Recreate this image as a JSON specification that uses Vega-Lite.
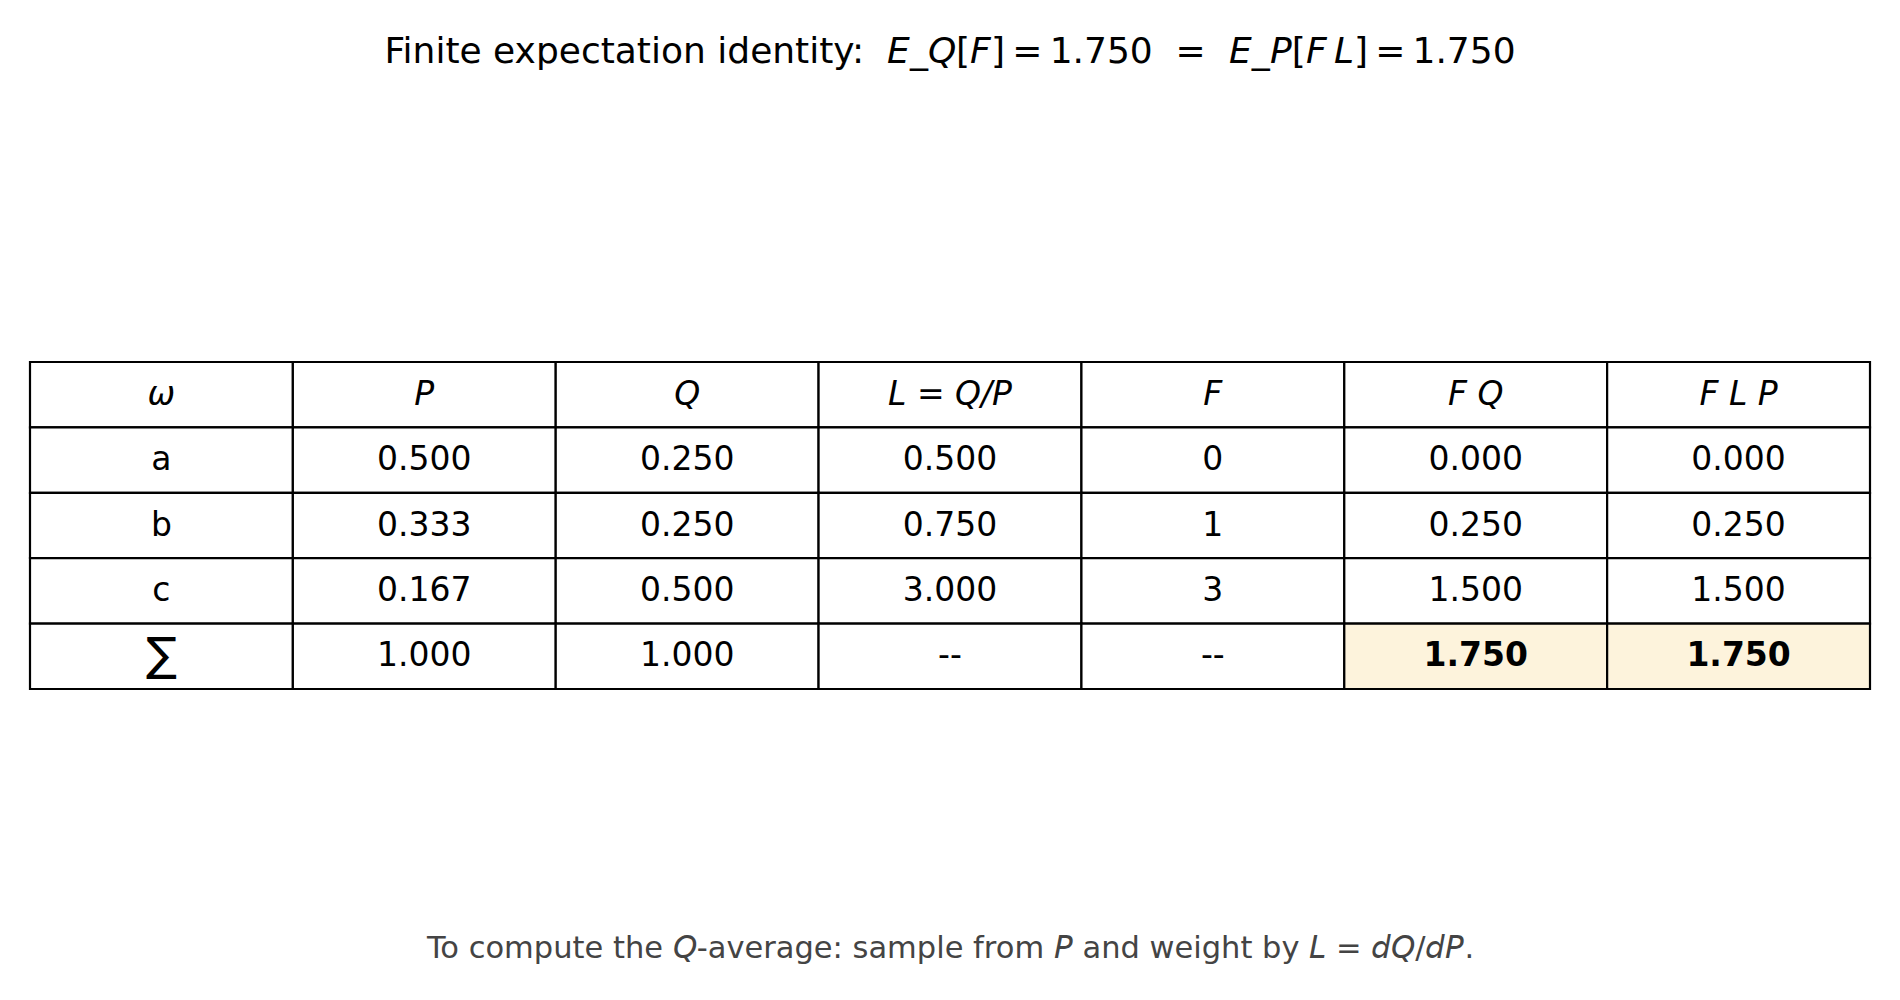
{
  "$schema": "https://vega.github.io/schema/vega-lite/v6.json",
  "width": 1840,
  "height": 327,
  "autosize": {"type": "none"},
  "padding": {"left": 30, "top": 362, "right": 30, "bottom": 311},
  "background": "white",
  "config": {
    "view": {"stroke": null},
    "font": "DejaVu Sans",
    "text": {"font": "DejaVu Sans"}
  },
  "title": {
    "text": "Finite expectation identity:\u00a0\u00a0𝘌_𝘘[𝘍]\u2009=\u20091.750\u00a0\u00a0=\u00a0\u00a0𝘌_𝘗[𝘍\u2009𝘓]\u2009=\u20091.750",
    "font": "DejaVu Sans",
    "fontSize": 36,
    "fontWeight": "normal",
    "color": "black",
    "anchor": "middle",
    "frame": "group",
    "offset": 290
  },
  "data": {
    "values": [
      {"r": 0, "c": 0, "t": "ω", "kind": "head"},
      {"r": 0, "c": 1, "t": "P", "kind": "head"},
      {"r": 0, "c": 2, "t": "Q", "kind": "head"},
      {"r": 0, "c": 3, "t": "L = Q/P", "kind": "head"},
      {"r": 0, "c": 4, "t": "F", "kind": "head"},
      {"r": 0, "c": 5, "t": "F Q", "kind": "head"},
      {"r": 0, "c": 6, "t": "F L P", "kind": "head"},
      {"r": 1, "c": 0, "t": "a", "kind": "body"},
      {"r": 1, "c": 1, "t": "0.500", "kind": "body"},
      {"r": 1, "c": 2, "t": "0.250", "kind": "body"},
      {"r": 1, "c": 3, "t": "0.500", "kind": "body"},
      {"r": 1, "c": 4, "t": "0", "kind": "body"},
      {"r": 1, "c": 5, "t": "0.000", "kind": "body"},
      {"r": 1, "c": 6, "t": "0.000", "kind": "body"},
      {"r": 2, "c": 0, "t": "b", "kind": "body"},
      {"r": 2, "c": 1, "t": "0.333", "kind": "body"},
      {"r": 2, "c": 2, "t": "0.250", "kind": "body"},
      {"r": 2, "c": 3, "t": "0.750", "kind": "body"},
      {"r": 2, "c": 4, "t": "1", "kind": "body"},
      {"r": 2, "c": 5, "t": "0.250", "kind": "body"},
      {"r": 2, "c": 6, "t": "0.250", "kind": "body"},
      {"r": 3, "c": 0, "t": "c", "kind": "body"},
      {"r": 3, "c": 1, "t": "0.167", "kind": "body"},
      {"r": 3, "c": 2, "t": "0.500", "kind": "body"},
      {"r": 3, "c": 3, "t": "3.000", "kind": "body"},
      {"r": 3, "c": 4, "t": "3", "kind": "body"},
      {"r": 3, "c": 5, "t": "1.500", "kind": "body"},
      {"r": 3, "c": 6, "t": "1.500", "kind": "body"},
      {"r": 4, "c": 0, "t": "∑", "kind": "sigma"},
      {"r": 4, "c": 1, "t": "1.000", "kind": "body"},
      {"r": 4, "c": 2, "t": "1.000", "kind": "body"},
      {"r": 4, "c": 3, "t": "--", "kind": "body"},
      {"r": 4, "c": 4, "t": "--", "kind": "body"},
      {"r": 4, "c": 5, "t": "1.750", "kind": "total"},
      {"r": 4, "c": 6, "t": "1.750", "kind": "total"}
    ]
  },
  "encoding": {
    "x": {
      "field": "c",
      "type": "ordinal",
      "scale": {"paddingInner": 0, "paddingOuter": 0},
      "axis": {
        "title": "To compute the 𝘘-average: sample from 𝘗 and weight by 𝘓\u00a0=\u00a0𝘥𝘘/𝘥𝘗.",
        "titleFont": "DejaVu Sans",
        "titleFontSize": 30.5,
        "titleFontWeight": "normal",
        "titleColor": "#444444",
        "titlePadding": 244,
        "labels": false,
        "ticks": false,
        "domain": false,
        "grid": false
      }
    },
    "y": {
      "field": "r",
      "type": "ordinal",
      "scale": {"paddingInner": 0, "paddingOuter": 0},
      "axis": null
    }
  },
  "layer": [
    {
      "mark": {"type": "rect", "stroke": "black", "strokeWidth": 2.2},
      "encoding": {
        "fill": {
          "condition": {"test": "datum.kind === 'total'", "value": "#fdf3dc"},
          "value": "white"
        }
      }
    },
    {
      "transform": [{"filter": "datum.kind === 'body'"}],
      "mark": {"type": "text", "fontSize": 33, "color": "black", "baseline": "middle"},
      "encoding": {"text": {"field": "t"}}
    },
    {
      "transform": [{"filter": "datum.kind === 'head'"}],
      "mark": {"type": "text", "fontSize": 33, "fontStyle": "italic", "color": "black", "baseline": "middle"},
      "encoding": {"text": {"field": "t"}}
    },
    {
      "transform": [{"filter": "datum.kind === 'total'"}],
      "mark": {"type": "text", "fontSize": 33, "fontWeight": "bold", "color": "black", "baseline": "middle"},
      "encoding": {"text": {"field": "t"}}
    },
    {
      "transform": [{"filter": "datum.kind === 'sigma'"}],
      "mark": {"type": "text", "fontSize": 46, "color": "black", "baseline": "middle"},
      "encoding": {"text": {"field": "t"}}
    }
  ]
}
